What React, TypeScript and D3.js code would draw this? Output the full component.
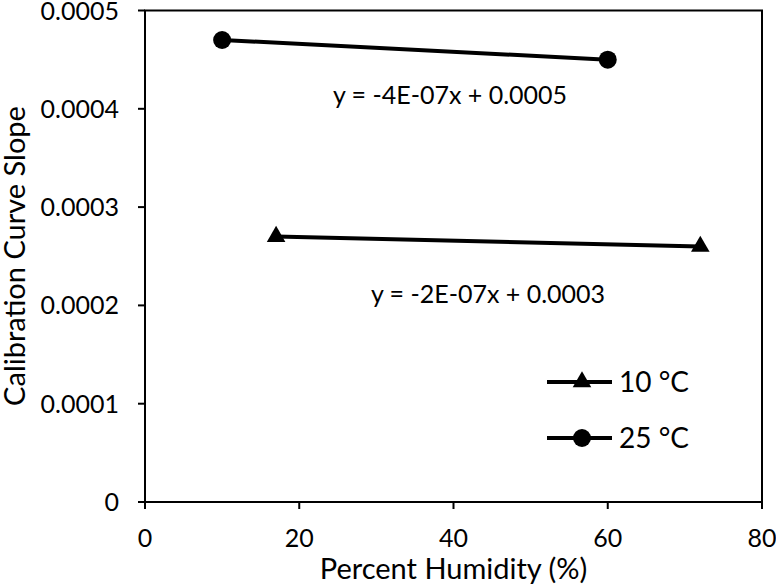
import * as d3 from 'd3';

const xTicks = [0, 20, 40, 60, 80];
const yTicks = [0, 0.0001, 0.0002, 0.0003, 0.0004, 0.0005];

const humidity10 = [17, 72];
const slope10 = [0.00027, 0.00026];
const humidity25 = [10, 60];
const slope25 = [0.00047, 0.00045];

const seriesNames = ['10 °C', '25 °C'];
const equations = ['y = -2E-07x + 0.0003', 'y = -4E-07x + 0.0005'];

const W = 776, H = 585;
const margin = { top: 10.5, right: 14, bottom: 83, left: 145 };
const font = 'Lato, "Open Sans", sans-serif';

const App = () => {
    const x = d3.scaleLinear().domain([0, 80]).range([margin.left, W - margin.right]);
    const y = d3.scaleLinear().domain([0, 0.0005]).range([H - margin.bottom, margin.top]);

    const line = d3.line<[number, number]>().x((d) => x(d[0])).y((d) => y(d[1]));
    const pts10 = humidity10.map((h, i) => [h, slope10[i]] as [number, number]);
    const pts25 = humidity25.map((h, i) => [h, slope25[i]] as [number, number]);

    const tri = d3.symbol().type(d3.symbolTriangle).size(150)();
    const x0 = margin.left, x1 = W - margin.right, yb = H - margin.bottom, yt = margin.top;

    return (
        <svg width={W} height={H} style={{ position: 'absolute', left: 0, top: 0, background: '#fff' }}>
            <rect x={0} y={0} width={W} height={H} fill="#fff" />
            {/* plot frame */}
            <rect x={x0} y={yt} width={x1 - x0} height={yb - yt} fill="none" stroke="#000" strokeWidth={2} />

            {yTicks.map((t) => (
                <g key={t}>
                    <line x1={x0 - 7} x2={x0} y1={y(t)} y2={y(t)} stroke="#000" strokeWidth={2} />
                    <text x={119} y={y(t)} dy="0.36em" textAnchor="end" fontSize={25} fontFamily={font}>
                        {t === 0 ? '0' : t.toFixed(4)}
                    </text>
                </g>
            ))}
            {xTicks.map((t) => (
                <g key={t}>
                    <line x1={x(t)} x2={x(t)} y1={yb} y2={yb + 7} stroke="#000" strokeWidth={2} />
                    <text x={x(t)} y={547} textAnchor="middle" fontSize={25} fontFamily={font}>{t}</text>
                </g>
            ))}

            <text x={(x0 + x1) / 2} y={579} textAnchor="middle" fontSize={29} fontFamily={font}>Percent Humidity (%)</text>
            <text transform={`translate(25,256) rotate(-90)`} textAnchor="middle" fontSize={29} fontFamily={font}>
                Calibration Curve Slope
            </text>

            {/* 10 °C */}
            <path d={line(pts10) || ''} fill="none" stroke="#000" strokeWidth={4} />
            {pts10.map((p, i) => (
                <path key={i} d={tri || ''} transform={`translate(${x(p[0])},${y(p[1])})`} fill="#000" />
            ))}
            {/* 25 °C */}
            <path d={line(pts25) || ''} fill="none" stroke="#000" strokeWidth={4} />
            {pts25.map((p, i) => (
                <circle key={i} cx={x(p[0])} cy={y(p[1])} r={9} fill="#000" />
            ))}

            <text x={488} y={303} textAnchor="middle" fontSize={25} fontFamily={font}>{equations[0]}</text>
            <text x={450} y={104} textAnchor="middle" fontSize={25} fontFamily={font}>{equations[1]}</text>

            {/* legend */}
            {seriesNames.map((name, i) => {
                const ly = 382 + i * 56;
                return (
                    <g key={name}>
                        <line x1={547} x2={612} y1={ly} y2={ly} stroke="#000" strokeWidth={4} />
                        {i === 0
                            ? <path d={tri || ''} transform={`translate(582,${ly})`} fill="#000" />
                            : <circle cx={582} cy={ly} r={9} fill="#000" />}
                        <text x={619} y={ly} dy="0.36em" fontSize={28} fontFamily={font}>{name}</text>
                    </g>
                );
            })}
        </svg>
    );
};

export default App;
